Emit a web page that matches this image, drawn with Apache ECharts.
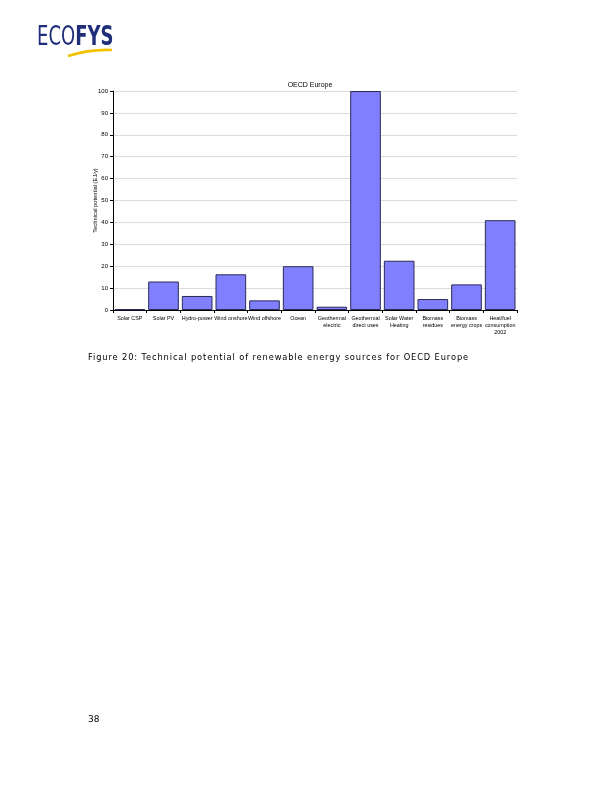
<!DOCTYPE html>
<html><head><meta charset="utf-8">
<script src="https://cdn.jsdelivr.net/npm/echarts@6/dist/echarts.min.js"></script>
<style>
html,body{margin:0;padding:0;background:#fff;}
#page{position:relative;width:612px;height:792px;}
#chart{position:absolute;left:0;top:0;width:612px;height:792px;}
#caption{position:absolute;left:88px;top:352px;font-family:"DejaVu Sans",Verdana,sans-serif;font-size:8.3px;letter-spacing:0.87px;color:#000;white-space:nowrap;}
</style></head>
<body><div id="page"><div id="chart"></div>
<div id="caption">Figure 20: Technical potential of renewable energy sources for OECD Europe</div></div>
<script>
const categories = ["Solar CSP","Solar PV","Hydro-power","Wind onshore","Wind offshore","Ocean","Geothermal\nelectric","Geothermal\ndirect uses","Solar Water\nHeating","Biomass\nresidues","Biomass\nenergy crops","Heat/fuel\nconsumption\n2002"];
const values = [0.3, 13, 6.4, 16.3, 4.4, 20, 1.5, 100, 22.5, 5, 11.7, 41];
const yTicks = {min:0, max:100, interval:10};
const titleText = "OECD Europe";
const yAxisName = "Technical potential (EJ/y)";

const chart = echarts.init(document.getElementById('chart'), null, {renderer:'canvas'});
chart.setOption({
  animation:false,
  title:{text:titleText, left:305, top:77, textAlign:'center',
    textStyle:{fontFamily:'Liberation Sans, Arial', fontSize:7, fontWeight:'normal', color:'#000'}},
  grid:{left:113, right:95, top:91, bottom:482, containLabel:false},
  xAxis:{type:'category', data:categories,
    axisLine:{lineStyle:{color:'#000', width:1}},
    axisTick:{show:true, alignWithLabel:false, length:3, lineStyle:{color:'#000'}},
    axisLabel:{interval:0, fontFamily:'Liberation Sans, Arial', fontSize:5.4, color:'#000', lineHeight:7, margin:5}},
  yAxis:{type:'value', min:yTicks.min, max:yTicks.max, interval:yTicks.interval,
    name:yAxisName, nameLocation:'middle', nameGap:15, nameMoveOverlap:false,
    nameTextStyle:{fontFamily:'Liberation Sans, Arial', fontSize:5.8, color:'#000'},
    axisLine:{show:true, lineStyle:{color:'#000', width:1}},
    axisTick:{show:true, length:3, lineStyle:{color:'#000'}},
    axisLabel:{fontFamily:'Liberation Sans, Arial', fontSize:6, color:'#000', margin:5},
    splitLine:{show:true, lineStyle:{color:'#dcdcdc', width:1}}},
  series:[{type:'bar', data:values, barCategoryGap:'9%',
    itemStyle:{color:'#8080ff', borderColor:'#2a2a55', borderWidth:1}}],
  graphic:[
    {type:'text', x:37, y:25, scaleX:0.77, style:{text:'{a|ECO}{b|FYS}',
      rich:{a:{font:'normal 26px "DejaVu Sans Condensed", sans-serif', fill:'#1f2d7a', color:'#1f2d7a'},
            b:{font:'bold 26px "DejaVu Sans Condensed", sans-serif', fill:'#1f2d7a', color:'#1f2d7a'}}}},
    {type:'bezierCurve', shape:{x1:68,y1:56,x2:112,y2:50,cpx1:90,cpy1:49}, style:{stroke:'#f2c200', lineWidth:2.5, fill:null}},
    {type:'text', left:88, top:715, style:{text:'38', font:'9px "DejaVu Sans", Verdana, sans-serif', fill:'#000'}}
  ]
});
</script></body></html>
